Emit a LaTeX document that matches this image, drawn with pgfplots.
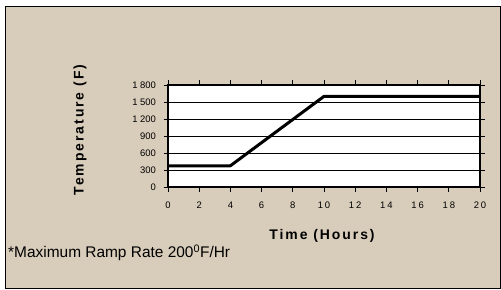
\documentclass[border=0pt]{standalone}
\usepackage{pgfplots}
\pgfplotsset{compat=1.18}
\usepackage{fontspec}
\setmainfont{Liberation Sans}
\newfontfamily\tickfont[LetterSpace=20]{Liberation Sans}
\newfontfamily\labfont[LetterSpace=14]{Liberation Sans}
\definecolor{bg}{RGB}{216,204,186}
\begin{document}
\begin{tikzpicture}[x=1bp,y=1bp]
\fill[white] (0,0) rectangle (501,289);
\filldraw[fill=bg,draw=black,line width=1bp] (5.5,1) rectangle (500.5,282);
\begin{axis}[
  at={(168bp,102bp)}, anchor=south west,
  scale only axis, width=312bp, height=102bp,
  xmin=0, xmax=20, ymin=0, ymax=1800,
  xtick={0,2,...,20},
  xticklabels={0,2,4,6,8,10,12,14,16,18,20},
  ytick={0,300,...,1800},
  yticklabels={0,300,600,900,1 200,1 500,1 800},
  ymajorgrids,
  major grid style={black, line width=0.9bp},
  axis line style={black, line width=1.8bp},
  axis background/.style={fill=white},
  tick style={black, line width=0.9bp},
  tick align=outside,
  major tick length=4.5bp,
  xticklabel style={font=\tickfont\fontsize{9.5}{11}\selectfont, yshift=-7bp},
  yticklabel style={font=\fontsize{9.5}{11}\selectfont, xshift=-4bp},
  clip=false,
]
\addplot[black, line width=3bp, line join=round] coordinates {(0,375) (4,375) (10,1600) (20,1600)};
\end{axis}
\node[rotate=90, font=\labfont\bfseries\fontsize{14}{16}\selectfont] at (80,159) {Temperature (F)};
\node[font=\labfont\bfseries\fontsize{14}{16}\selectfont] at (322,53) {Time (Hours)};
\node[anchor=west, font=\fontsize{15.5}{18}\selectfont, inner sep=0pt] at (8,36) {*Maximum Ramp Rate 200\textsuperscript{0}F/Hr};
\end{tikzpicture}
\end{document}
